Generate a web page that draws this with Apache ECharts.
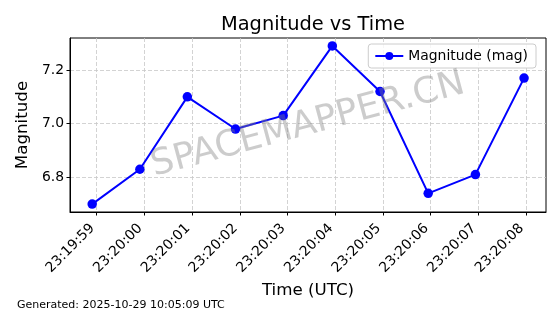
<!DOCTYPE html>
<html>
<head>
<meta charset="utf-8">
<script src="https://cdn.jsdelivr.net/npm/echarts@6/dist/echarts.min.js"></script>
<style>
html,body{margin:0;padding:0;background:#fff;}
#chart{width:560px;height:314px;}
</style>
</head>
<body>
<div id="chart"></div>
<script>
// Data
var times = ['23:19:58.905','23:19:59.905','23:20:00.900','23:20:01.910','23:20:02.910','23:20:03.940','23:20:04.940','23:20:05.950','23:20:06.940','23:20:07.960'];
var magnitudes = [6.70, 6.83, 7.10, 6.98, 7.03, 7.29, 7.12, 6.74, 6.81, 7.17];
var xTickLabels = ['23:19:59','23:20:00','23:20:01','23:20:02','23:20:03','23:20:04','23:20:05','23:20:06','23:20:07','23:20:08'];
var yTicks = [6.8, 7.0, 7.2];
var xRange = ['23:19:58.440', '23:20:08.420'];
var yRange = [6.6705, 7.3195];

function toSec(s){
  var p = s.split(':');
  return (+p[0])*3600 + (+p[1])*60 + parseFloat(p[2]);
}
function fmt(v){
  var t = Math.round(v);
  var h = Math.floor(t/3600), m = Math.floor((t%3600)/60), s = t%60;
  function z(n){return (n<10?'0':'')+n;}
  return z(h)+':'+z(m)+':'+z(s);
}
var seriesData = times.map(function(t,i){ return [toSec(t), magnitudes[i]]; });
var xTickValues = xTickLabels.map(toSec);

var FONT = 'DejaVu Sans';
var chart = echarts.init(document.getElementById('chart'), null, {renderer:'canvas'});
var gridLeft = 70, gridTop = 38, gridW = 476, gridH = 174;
chart.setOption({
  animation:false,
  backgroundColor:'#ffffff',
  textStyle:{fontFamily:FONT},
  title:{
    text:'Magnitude vs Time',
    left: gridLeft + gridW/2, top: 10, textAlign:'center',
    textStyle:{fontFamily:FONT, fontSize:19.4, fontWeight:'normal', color:'#000'}
  },
  grid:{left:gridLeft, top:gridTop, width:gridW, height:gridH, show:true, borderColor:'#000', borderWidth:1, backgroundColor:'transparent'},
  legend:{
    right: 24, top: 44,
    data:['Magnitude (mag)'],
    itemWidth: 28, itemHeight: 10, itemGap: 10,
    padding:[5,8,5,6],
    borderColor:'#cccccc', borderWidth:1, borderRadius:3,
    backgroundColor:'rgba(255,255,255,0.8)',
    textStyle:{fontFamily:FONT, fontSize:13.9, color:'#000'}
  },
  xAxis:{
    type:'value',
    min: toSec(xRange[0]), max: toSec(xRange[1]),
    name:'Time (UTC)', nameLocation:'middle', nameGap:69,
    nameTextStyle:{fontFamily:FONT, fontSize:16.7, color:'#000'},
    axisLine:{show:true, lineStyle:{color:'#000', width:1}},
    axisTick:{show:true, length:3.5, inside:false, lineStyle:{color:'#000'}, customValues:xTickValues},
    axisLabel:{show:true, rotate:45, margin:10, padding:[0,6,0,0], fontFamily:FONT, fontSize:13.9, color:'#000', customValues:xTickValues, formatter:function(v){return fmt(v);}},
    splitLine:{show:true, lineStyle:{color:'#c8c8c8', width:0.8, type:[4,2]}}
  },
  yAxis:{
    type:'value',
    min: yRange[0], max: yRange[1],
    name:'Magnitude', nameLocation:'middle', nameGap:37,
    nameTextStyle:{fontFamily:FONT, fontSize:16.7, color:'#000'},
    axisLine:{show:true, lineStyle:{color:'#000', width:1}},
    axisTick:{show:true, length:3.5, inside:false, lineStyle:{color:'#000'}, customValues:yTicks},
    axisLabel:{show:true, margin:6, fontFamily:FONT, fontSize:13.9, color:'#000', customValues:yTicks, formatter:function(v){return v.toFixed(1);}},
    splitLine:{show:true, lineStyle:{color:'#c8c8c8', width:0.8, type:[4,2]}}
  },
  series:[{
    name:'Magnitude (mag)',
    type:'line',
    data: seriesData,
    symbol:'circle', symbolSize:9.5, showSymbol:true,
    itemStyle:{color:'#0000ff'},
    lineStyle:{color:'#0000ff', width:2},
    z:3
  }],
  graphic:[
    {
      type:'text',
      x: gridLeft + gridW/2, y: gridTop + gridH/2,
      rotation: 15*Math.PI/180,
      z: 10,
      style:{text:'SPACEMAPPER.CN', fontFamily:FONT, fontSize:36, fill:'rgba(128,128,128,0.4)', align:'center', verticalAlign:'middle'}
    },
    {
      type:'text',
      left: 17, top: 300,
      style:{text:'Generated: 2025-10-29 10:05:09 UTC', fontFamily:FONT, fontSize:11, fill:'#000'}
    }
  ]
});
</script>
</body>
</html>
